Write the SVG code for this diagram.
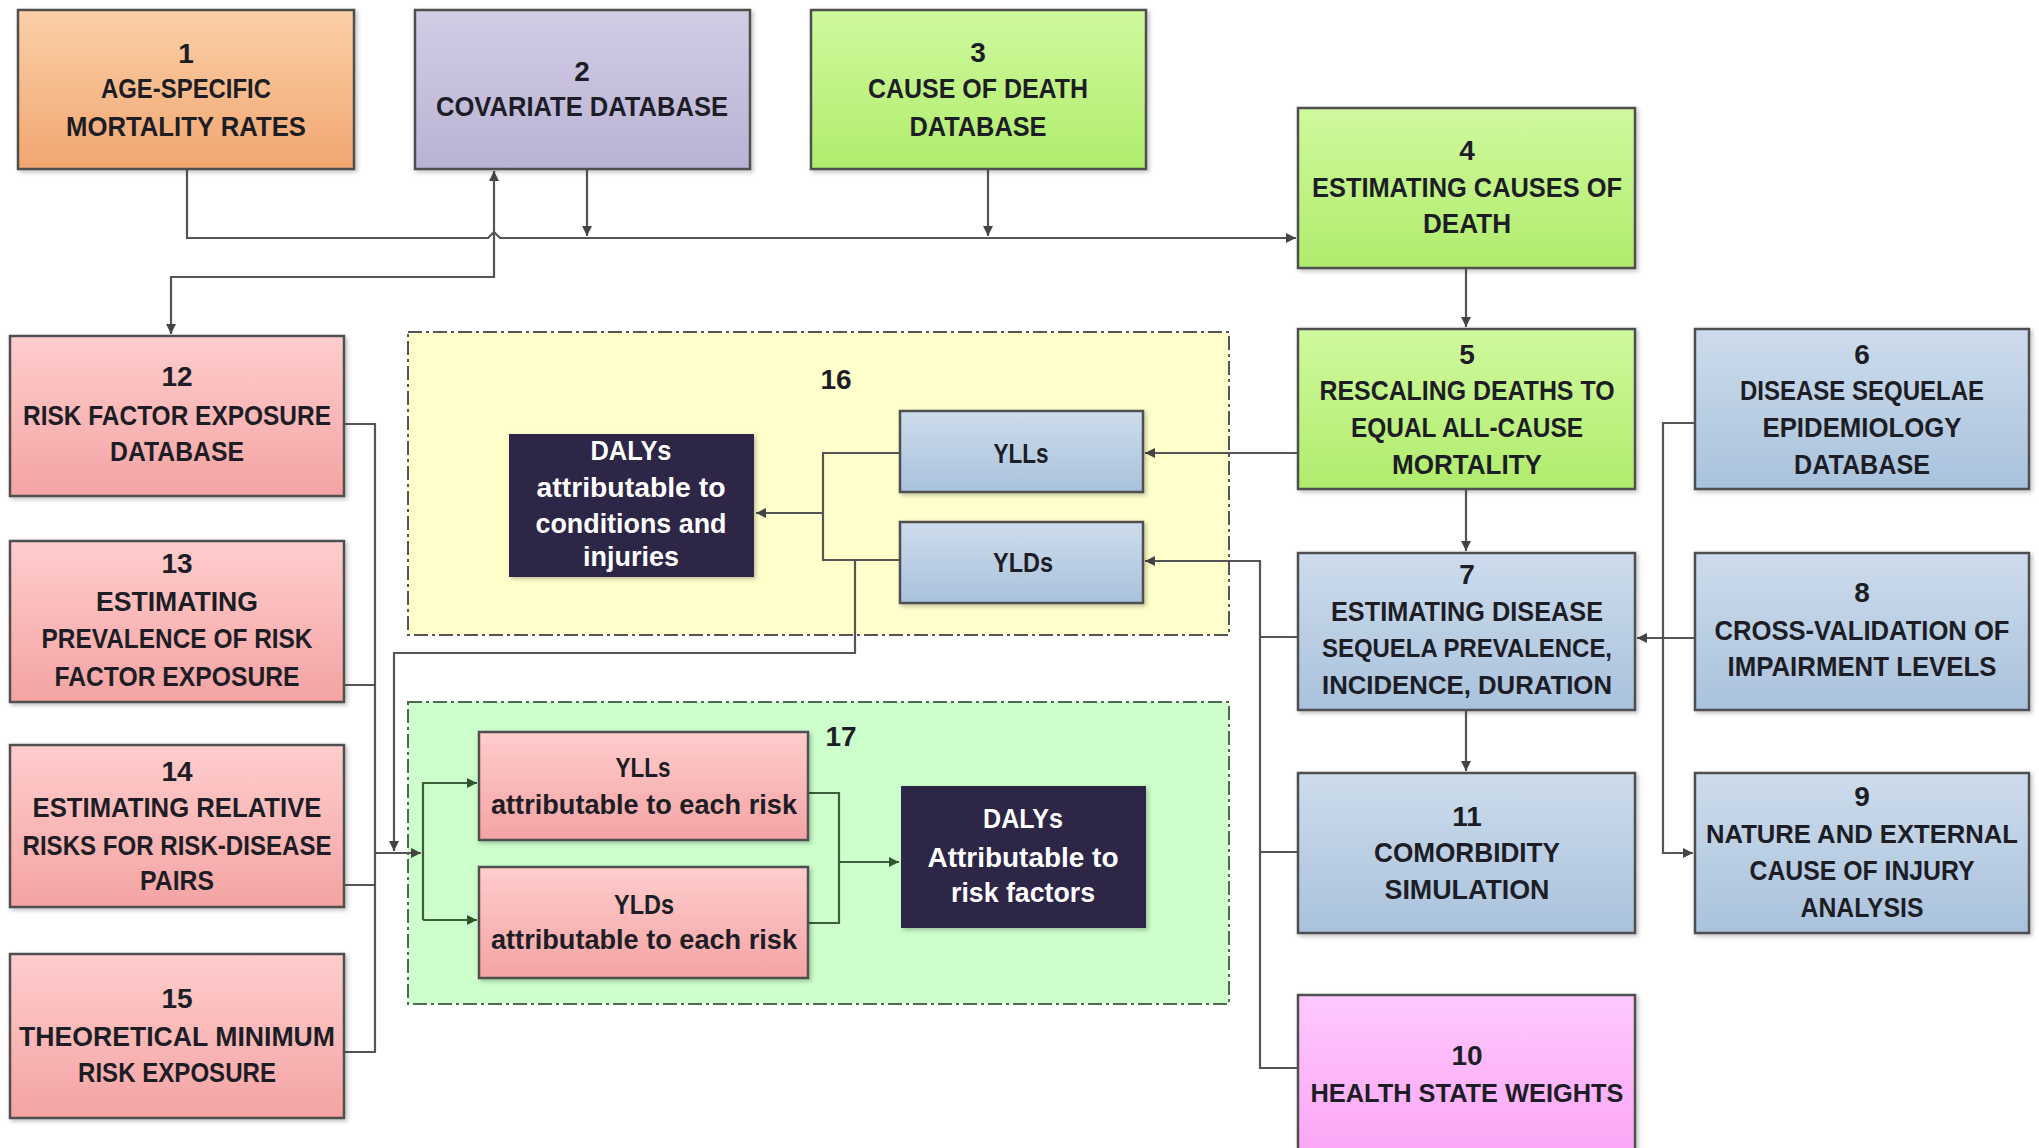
<svg xmlns="http://www.w3.org/2000/svg" width="2039" height="1148" viewBox="0 0 2039 1148">
<defs>
<style>
.t{font-family:"Liberation Sans",Arial,sans-serif;font-weight:bold;font-size:28px;text-anchor:middle;fill:#1d1d26}
.s{font-size:26px}
.w{fill:#ffffff}
.box{stroke:#4f4f4f;stroke-width:2.5}
.c{fill:none;stroke:#555;stroke-width:2.2}
.cg{fill:none;stroke:#3b5e3b;stroke-width:2.2}
.grp{stroke-width:2;stroke-dasharray:14,4,3,4}
</style>
<linearGradient id="gOr" x1="0" y1="0" x2="0" y2="1"><stop offset="0" stop-color="#fbd0a8"/><stop offset="1" stop-color="#f1a670"/></linearGradient>
<linearGradient id="gLav" x1="0" y1="0" x2="0" y2="1"><stop offset="0" stop-color="#d2cde5"/><stop offset="1" stop-color="#b9b2d4"/></linearGradient>
<linearGradient id="gGr" x1="0" y1="0" x2="0" y2="1"><stop offset="0" stop-color="#d0f99e"/><stop offset="1" stop-color="#b0ec6c"/></linearGradient>
<linearGradient id="gBl" x1="0" y1="0" x2="0" y2="1"><stop offset="0" stop-color="#cddcec"/><stop offset="1" stop-color="#a9c2dc"/></linearGradient>
<linearGradient id="gPk" x1="0" y1="0" x2="0" y2="1"><stop offset="0" stop-color="#ffcdcd"/><stop offset="1" stop-color="#f4a3a3"/></linearGradient>
<linearGradient id="gMg" x1="0" y1="0" x2="0" y2="1"><stop offset="0" stop-color="#ffc8ff"/><stop offset="1" stop-color="#fba4f5"/></linearGradient>
<filter id="sh" x="-10%" y="-10%" width="120%" height="120%"><feDropShadow dx="2" dy="2" stdDeviation="2" flood-color="#000" flood-opacity="0.25"/></filter>
<marker id="ar" viewBox="0 0 10 10" refX="10" refY="5" markerWidth="11" markerHeight="10" markerUnits="userSpaceOnUse" orient="auto-start-reverse"><path d="M0,0 L10,5 L0,10 z" fill="#444"/></marker>
<marker id="arg" viewBox="0 0 10 10" refX="10" refY="5" markerWidth="11" markerHeight="10" markerUnits="userSpaceOnUse" orient="auto"><path d="M0,0 L10,5 L0,10 z" fill="#2f552f"/></marker>
</defs>
<rect width="2039" height="1148" fill="#ffffff"/>

<g id="group16">
<rect x="408" y="332" width="821" height="303" fill="#ffffcc" stroke="#555" class="grp"/>
<text class="t" x="836" y="389">16</text>
</g>
<g id="group17">
<rect x="408" y="702" width="821" height="302" fill="#ccffcc" stroke="#4f6a4f" class="grp"/>
<text class="t" x="841" y="746">17</text>
</g>

<g id="connectors">
<path class="c" d="M187,169 V238 H488 L494,232 L500,238 H1296" marker-end="url(#ar)"/>
<path class="c" d="M587,169 V236" marker-end="url(#ar)"/>
<path class="c" d="M988,169 V236" marker-end="url(#ar)"/>
<path class="c" d="M494,171 V277 H171 V334" marker-start="url(#ar)" marker-end="url(#ar)"/>
<path class="c" d="M1466,268 V327" marker-end="url(#ar)"/>
<path class="c" d="M1298,453 H1145" marker-end="url(#ar)"/>
<path class="c" d="M1466,489 V551" marker-end="url(#ar)"/>
<path class="c" d="M1466,710 V771" marker-end="url(#ar)"/>
<path class="c" d="M1695,638 H1637" marker-end="url(#ar)"/>
<path class="c" d="M1695,423 H1663 V853 H1693" marker-end="url(#ar)"/>
<path class="c" d="M1298,1068 H1260 V561 H1145" marker-end="url(#ar)"/>
<path class="c" d="M1298,637 H1260 M1298,852 H1260"/>
<path class="c" d="M900,453 H823 V560 H900"/>
<path class="c" d="M823,513 H756" marker-end="url(#ar)"/>
<path class="c" d="M855,560 V653 H394 V851" marker-end="url(#ar)"/>
<path class="c" d="M344,424 H375 V1052 H344 M344,685 H375 M344,885 H375"/>
<path class="c" d="M375,853 H421" marker-end="url(#ar)"/>
<path class="cg" d="M423,920 V783 H477" marker-end="url(#arg)"/>
<path class="cg" d="M423,920 H477" marker-end="url(#arg)"/>
<path class="cg" d="M808,793 H839 V923 H808"/>
<path class="cg" d="M839,862 H899" marker-end="url(#arg)"/>
</g>

<g id="n1"><rect class="box" x="18" y="10" width="336" height="159" fill="url(#gOr)" filter="url(#sh)"/>
<text class="t" x="186" y="63">1</text>
<text class="t" x="186" y="98" textLength="170" lengthAdjust="spacingAndGlyphs">AGE-SPECIFIC</text>
<text class="t" x="186" y="136" textLength="240" lengthAdjust="spacingAndGlyphs">MORTALITY RATES</text></g>

<g id="n2"><rect class="box" x="415" y="10" width="335" height="159" fill="url(#gLav)" filter="url(#sh)"/>
<text class="t" x="582" y="81">2</text>
<text class="t" x="582" y="116" textLength="292" lengthAdjust="spacingAndGlyphs">COVARIATE DATABASE</text></g>

<g id="n3"><rect class="box" x="811" y="10" width="335" height="159" fill="url(#gGr)" filter="url(#sh)"/>
<text class="t" x="978" y="62">3</text>
<text class="t" x="978" y="98" textLength="220" lengthAdjust="spacingAndGlyphs">CAUSE OF DEATH</text>
<text class="t" x="978" y="136" textLength="137" lengthAdjust="spacingAndGlyphs">DATABASE</text></g>

<g id="n4"><rect class="box" x="1298" y="108" width="337" height="160" fill="url(#gGr)" filter="url(#sh)"/>
<text class="t" x="1467" y="160">4</text>
<text class="t" x="1467" y="197" textLength="310" lengthAdjust="spacingAndGlyphs">ESTIMATING CAUSES OF</text>
<text class="t" x="1467" y="233" textLength="88" lengthAdjust="spacingAndGlyphs">DEATH</text></g>

<g id="n5"><rect class="box" x="1298" y="329" width="337" height="160" fill="url(#gGr)" filter="url(#sh)"/>
<text class="t" x="1467" y="364">5</text>
<text class="t" x="1467" y="400" textLength="295" lengthAdjust="spacingAndGlyphs">RESCALING DEATHS TO</text>
<text class="t" x="1467" y="437" textLength="232" lengthAdjust="spacingAndGlyphs">EQUAL ALL-CAUSE</text>
<text class="t" x="1467" y="474" textLength="150" lengthAdjust="spacingAndGlyphs">MORTALITY</text></g>

<g id="n6"><rect class="box" x="1695" y="329" width="334" height="160" fill="url(#gBl)" filter="url(#sh)"/>
<text class="t" x="1862" y="364">6</text>
<text class="t" x="1862" y="400" textLength="244" lengthAdjust="spacingAndGlyphs">DISEASE SEQUELAE</text>
<text class="t" x="1862" y="437" textLength="199" lengthAdjust="spacingAndGlyphs">EPIDEMIOLOGY</text>
<text class="t" x="1862" y="474" textLength="136" lengthAdjust="spacingAndGlyphs">DATABASE</text></g>

<g id="n7"><rect class="box" x="1298" y="553" width="337" height="157" fill="url(#gBl)" filter="url(#sh)"/>
<text class="t" x="1467" y="584">7</text>
<text class="t" x="1467" y="621" textLength="272" lengthAdjust="spacingAndGlyphs">ESTIMATING DISEASE</text>
<text class="t s" x="1467" y="657" textLength="290" lengthAdjust="spacingAndGlyphs">SEQUELA PREVALENCE,</text>
<text class="t s" x="1467" y="694" textLength="290" lengthAdjust="spacingAndGlyphs">INCIDENCE, DURATION</text></g>

<g id="n8"><rect class="box" x="1695" y="553" width="334" height="157" fill="url(#gBl)" filter="url(#sh)"/>
<text class="t" x="1862" y="602">8</text>
<text class="t" x="1862" y="640" textLength="295" lengthAdjust="spacingAndGlyphs">CROSS-VALIDATION OF</text>
<text class="t" x="1862" y="676" textLength="269" lengthAdjust="spacingAndGlyphs">IMPAIRMENT LEVELS</text></g>

<g id="n9"><rect class="box" x="1695" y="773" width="334" height="160" fill="url(#gBl)" filter="url(#sh)"/>
<text class="t" x="1862" y="806">9</text>
<text class="t s" x="1862" y="843" textLength="312" lengthAdjust="spacingAndGlyphs">NATURE AND EXTERNAL</text>
<text class="t" x="1862" y="880" textLength="225" lengthAdjust="spacingAndGlyphs">CAUSE OF INJURY</text>
<text class="t" x="1862" y="917" textLength="123" lengthAdjust="spacingAndGlyphs">ANALYSIS</text></g>

<g id="n10"><rect class="box" x="1298" y="995" width="337" height="170" fill="url(#gMg)" filter="url(#sh)"/>
<text class="t" x="1467" y="1065">10</text>
<text class="t s" x="1467" y="1102" textLength="313" lengthAdjust="spacingAndGlyphs">HEALTH STATE WEIGHTS</text></g>

<g id="n11"><rect class="box" x="1298" y="773" width="337" height="160" fill="url(#gBl)" filter="url(#sh)"/>
<text class="t" x="1467" y="826">11</text>
<text class="t" x="1467" y="862" textLength="186" lengthAdjust="spacingAndGlyphs">COMORBIDITY</text>
<text class="t" x="1467" y="899" textLength="165" lengthAdjust="spacingAndGlyphs">SIMULATION</text></g>

<g id="n12"><rect class="box" x="10" y="336" width="334" height="160" fill="url(#gPk)" filter="url(#sh)"/>
<text class="t" x="177" y="386">12</text>
<text class="t" x="177" y="425" textLength="308" lengthAdjust="spacingAndGlyphs">RISK FACTOR EXPOSURE</text>
<text class="t" x="177" y="461" textLength="134" lengthAdjust="spacingAndGlyphs">DATABASE</text></g>

<g id="n13"><rect class="box" x="10" y="541" width="334" height="161" fill="url(#gPk)" filter="url(#sh)"/>
<text class="t" x="177" y="573">13</text>
<text class="t" x="177" y="611" textLength="162" lengthAdjust="spacingAndGlyphs">ESTIMATING</text>
<text class="t" x="177" y="648" textLength="271" lengthAdjust="spacingAndGlyphs">PREVALENCE OF RISK</text>
<text class="t" x="177" y="686" textLength="245" lengthAdjust="spacingAndGlyphs">FACTOR EXPOSURE</text></g>

<g id="n14"><rect class="box" x="10" y="745" width="334" height="162" fill="url(#gPk)" filter="url(#sh)"/>
<text class="t" x="177" y="781">14</text>
<text class="t" x="177" y="817" textLength="289" lengthAdjust="spacingAndGlyphs">ESTIMATING RELATIVE</text>
<text class="t" x="177" y="855" textLength="309" lengthAdjust="spacingAndGlyphs">RISKS FOR RISK-DISEASE</text>
<text class="t" x="177" y="890" textLength="74" lengthAdjust="spacingAndGlyphs">PAIRS</text></g>

<g id="n15"><rect class="box" x="10" y="954" width="334" height="164" fill="url(#gPk)" filter="url(#sh)"/>
<text class="t" x="177" y="1008">15</text>
<text class="t" x="177" y="1046" textLength="316" lengthAdjust="spacingAndGlyphs">THEORETICAL MINIMUM</text>
<text class="t" x="177" y="1082" textLength="198" lengthAdjust="spacingAndGlyphs">RISK EXPOSURE</text></g>

<g id="dalys-cond"><rect x="509" y="434" width="245" height="143" fill="#2f2747" filter="url(#sh)"/>
<text class="t w" x="631" y="460" textLength="81" lengthAdjust="spacingAndGlyphs">DALYs</text>
<text class="t w" x="631" y="497" textLength="189" lengthAdjust="spacingAndGlyphs">attributable to</text>
<text class="t w" x="631" y="533" textLength="191" lengthAdjust="spacingAndGlyphs">conditions and</text>
<text class="t w" x="631" y="566" textLength="96" lengthAdjust="spacingAndGlyphs">injuries</text></g>

<g id="ylls"><rect class="box" x="900" y="411" width="243" height="81" fill="url(#gBl)" filter="url(#sh)"/>
<text class="t" x="1021" y="463" textLength="55" lengthAdjust="spacingAndGlyphs">YLLs</text></g>

<g id="ylds"><rect class="box" x="900" y="522" width="243" height="81" fill="url(#gBl)" filter="url(#sh)"/>
<text class="t" x="1023" y="572" textLength="60" lengthAdjust="spacingAndGlyphs">YLDs</text></g>

<g id="ylls-risk"><rect class="box" x="479" y="732" width="329" height="108" fill="url(#gPk)" filter="url(#sh)"/>
<text class="t" x="643" y="777" textLength="55" lengthAdjust="spacingAndGlyphs">YLLs</text>
<text class="t" x="644" y="814" textLength="306" lengthAdjust="spacingAndGlyphs">attributable to each risk</text></g>

<g id="ylds-risk"><rect class="box" x="479" y="867" width="329" height="111" fill="url(#gPk)" filter="url(#sh)"/>
<text class="t" x="644" y="914" textLength="60" lengthAdjust="spacingAndGlyphs">YLDs</text>
<text class="t" x="644" y="949" textLength="306" lengthAdjust="spacingAndGlyphs">attributable to each risk</text></g>

<g id="dalys-risk"><rect x="901" y="786" width="245" height="142" fill="#2f2747" filter="url(#sh)"/>
<text class="t w" x="1023" y="828" textLength="80" lengthAdjust="spacingAndGlyphs">DALYs</text>
<text class="t w" x="1023" y="867" textLength="191" lengthAdjust="spacingAndGlyphs">Attributable to</text>
<text class="t w" x="1023" y="902" textLength="144" lengthAdjust="spacingAndGlyphs">risk factors</text></g>
</svg>
